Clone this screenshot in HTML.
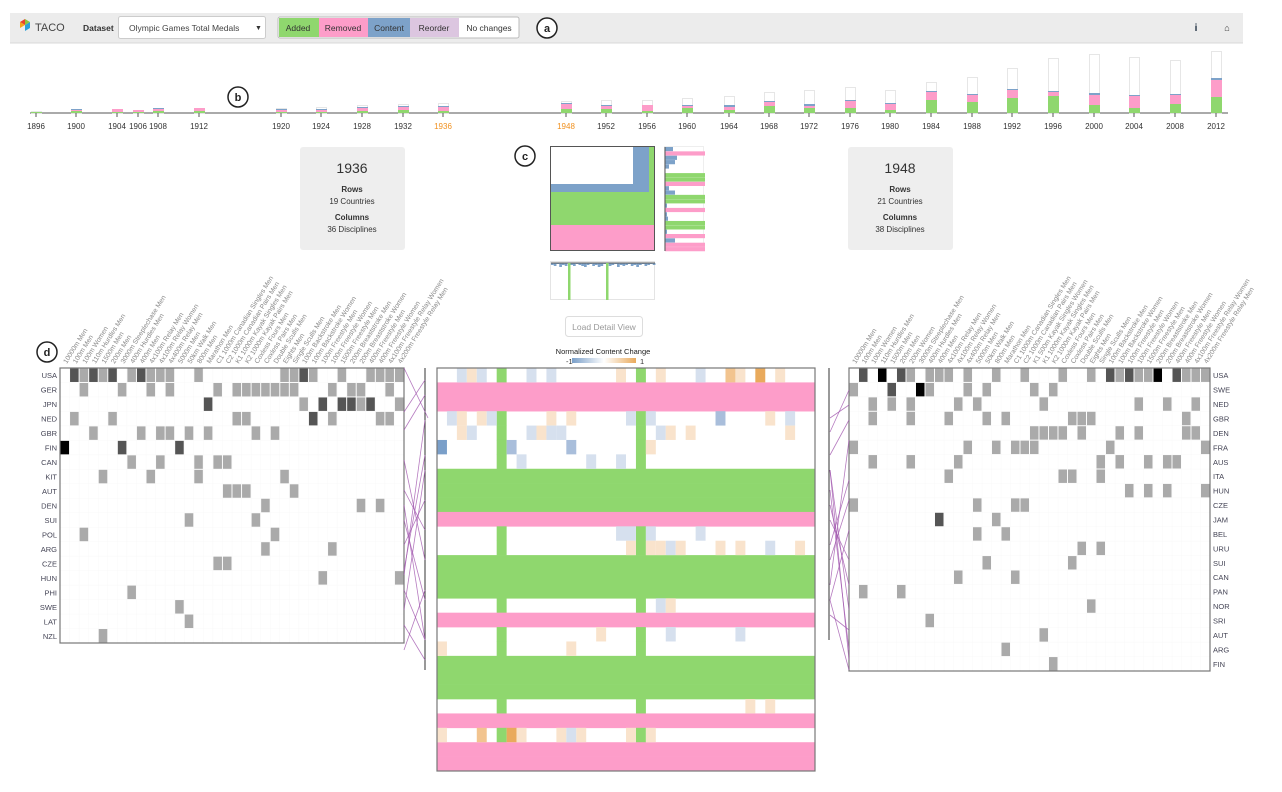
<!DOCTYPE html>
<html><head><meta charset="utf-8">
<style>
body{margin:0;width:1282px;height:792px;background:#fff;font-family:"Liberation Sans",sans-serif;overflow:hidden;position:relative}
</style></head><body>
<svg id="s" width="1282" height="792" xmlns="http://www.w3.org/2000/svg" style="position:absolute;left:0;top:0;font-family:'Liberation Sans',sans-serif">
<rect x="10" y="13" width="1233" height="30" fill="#ececec"/>
<line x1="10" y1="43" x2="1243" y2="43" stroke="#d8d8d8"/>
<polygon points="20,22 25,19 25,25" fill="#e8412c"/><polygon points="20,22 20,28 25,25" fill="#f4a41c"/><polygon points="25,25 30,22 30,28 25,31" fill="#2aa0d8"/><polygon points="25,19 30,22 25,25" fill="#8cc63e"/>
<text x="35" y="31" font-size="11" fill="#444">TACO</text>
<text x="83" y="31" font-size="8.5" font-weight="bold" fill="#333">Dataset</text>
<rect x="118.5" y="16.5" width="147" height="22" rx="2" fill="#fff" stroke="#ccc"/>
<text x="129" y="31" font-size="8.5" fill="#444">Olympic Games Total Medals</text>
<text x="255" y="30" font-size="7" fill="#333">▼</text>
<rect x="278" y="17" width="241" height="21" rx="2" fill="#fff" stroke="#bbb"/>
<rect x="279" y="18" width="40" height="19" fill="#8fd76e"/><rect x="319" y="18" width="49" height="19" fill="#fd9dc9"/><rect x="368" y="18" width="42" height="19" fill="#7da2c9"/><rect x="410" y="18" width="49" height="19" fill="#dcc6e0"/>
<text x="298" y="31" font-size="8.5" fill="#333" text-anchor="middle">Added</text>
<text x="343" y="31" font-size="8.5" fill="#333" text-anchor="middle">Removed</text>
<text x="389" y="31" font-size="8.5" fill="#333" text-anchor="middle">Content</text>
<text x="434" y="31" font-size="8.5" fill="#333" text-anchor="middle">Reorder</text>
<text x="489" y="31" font-size="8.5" fill="#333" text-anchor="middle">No changes</text>
<text x="1196" y="31" font-size="10" font-weight="bold" fill="#234" text-anchor="middle">i</text>
<text x="1227" y="31" font-size="9" fill="#333" text-anchor="middle">⌂</text>
<line x1="30" y1="113" x2="1228" y2="113" stroke="#777" stroke-width="1.2"/>
<g id="tl"></g>
<rect x="300" y="147" width="105" height="103" rx="3" fill="#eee"/>
<text x="352" y="173" font-size="14" fill="#333" text-anchor="middle">1936</text>
<text x="352" y="192" font-size="8" font-weight="bold" fill="#333" text-anchor="middle">Rows</text>
<text x="352" y="204" font-size="8" fill="#333" text-anchor="middle">19 Countries</text>
<text x="352" y="220" font-size="8" font-weight="bold" fill="#333" text-anchor="middle">Columns</text>
<text x="352" y="232" font-size="8" fill="#333" text-anchor="middle">36 Disciplines</text>
<rect x="848" y="147" width="105" height="103" rx="3" fill="#eee"/>
<text x="900" y="173" font-size="14" fill="#333" text-anchor="middle">1948</text>
<text x="900" y="192" font-size="8" font-weight="bold" fill="#333" text-anchor="middle">Rows</text>
<text x="900" y="204" font-size="8" fill="#333" text-anchor="middle">21 Countries</text>
<text x="900" y="220" font-size="8" font-weight="bold" fill="#333" text-anchor="middle">Columns</text>
<text x="900" y="232" font-size="8" fill="#333" text-anchor="middle">38 Disciplines</text>
<rect x="550" y="146" width="105" height="105" fill="#7da2c9"/>
<rect x="551" y="147" width="82" height="37" fill="#fff"/>
<rect x="649" y="147" width="6" height="45" fill="#8fd76e"/>
<rect x="550" y="192" width="105" height="33" fill="#8fd76e"/>
<rect x="550" y="225" width="105" height="26" fill="#fd9dc9"/>
<rect x="550.5" y="146.5" width="104" height="104" fill="none" stroke="#555"/>
<g id="rh"></g>
<rect x="550.5" y="261.5" width="104" height="38" fill="#fff" stroke="#e4e4e4"/>
<g id="bh"></g>
<rect x="565.5" y="316.5" width="77" height="20" rx="3" fill="#fff" stroke="#ddd"/>
<text x="604" y="330" font-size="8.5" fill="#999" text-anchor="middle">Load Detail View</text>
<text x="603" y="354" font-size="7.5" fill="#222" text-anchor="middle">Normalized Content Change</text>
<defs><linearGradient id="g"><stop offset="0" stop-color="#7a9fc9"/><stop offset=".5" stop-color="#fff"/><stop offset="1" stop-color="#e9aa5c"/></linearGradient></defs>
<rect x="572" y="358" width="64" height="5" fill="url(#g)"/>
<text x="566" y="364" font-size="7.5" fill="#333">-1</text><text x="640" y="364" font-size="7.5" fill="#333">1</text>
<line x1="425" y1="368" x2="425" y2="670" stroke="#333"/>
<line x1="829" y1="368" x2="829" y2="640" stroke="#333"/>
<g id="m"></g>
<g font-size="11" font-weight="bold" fill="#222" text-anchor="middle">
<circle cx="547" cy="28" r="10" fill="#fff" stroke="#222" stroke-width="1.5"/><text x="547" y="32">a</text>
<circle cx="238" cy="97" r="10" fill="#fff" stroke="#222" stroke-width="1.5"/><text x="238" y="101">b</text>
<circle cx="525" cy="156" r="10" fill="#fff" stroke="#222" stroke-width="1.5"/><text x="525" y="160">c</text>
<circle cx="47" cy="352" r="10" fill="#fff" stroke="#222" stroke-width="1.5"/><text x="47" y="356">d</text>
</g>
</svg>
<script>
var NS="http://www.w3.org/2000/svg";
function el(p,t,a,txt){var e=document.createElementNS(NS,t);for(var k in a)e.setAttribute(k,a[k]);if(txt!=null)e.textContent=txt;document.getElementById(p).appendChild(e);return e;}
var G="#8fd76e",P="#fd9dc9",B="#7da2c9";
var T=[[1896,36,111,1,0,0],[1900,76,109,2,1,1],[1904,117,109,1,3,0],[1906,138,110,1,2,0],[1908,158,108,2,2,1],[1912,199,108,2,3,0],[1920,281,108,1,2,1],[1924,321,107,1,2,1],[1928,362,105,2,3,1],[1932,403,104,3,3,1],[1936,443,103,2,4,1],
[1948,566,101,4,5,1],[1952,606,100,4,3,1],[1956,647,100,2,6,0],[1960,687,98,5,2,1],[1964,729,96,3,3,2],[1968,769,92,7,4,1],[1972,809,90,5,2,2],[1976,850,87,5,7,1],[1980,890,90,3,6,1],[1984,931,82,13,8,1],[1988,972,77,11,7,1],[1992,1012,68,15,8,1],[1996,1053,58,17,4,1],[2000,1094,54,8,10,2],[2004,1134,57,5,12,1],[2008,1175,60,9,9,1],[2012,1216,51,16,17,2]];
T.forEach(function(t){var x=t[1]-5;
el("tl","rect",{x:x+.5,y:t[2]+.5,width:10,height:112.5-t[2],fill:"#fff",stroke:"#e6e6e6"});
el("tl","rect",{x:x,y:113-t[3],width:11,height:t[3],fill:G});
el("tl","rect",{x:x,y:113-t[3]-t[4],width:11,height:t[4],fill:P});
el("tl","rect",{x:x,y:113-t[3]-t[4]-t[5],width:11,height:t[5],fill:B});
el("tl","line",{x1:t[1],y1:113,x2:t[1],y2:117,stroke:"#555"});
el("tl","text",{x:t[1],y:129,"font-size":8,fill:(t[0]==1936||t[0]==1948)?"#f0901e":"#333","text-anchor":"middle"},t[0]);});
var rh=[[B,8],[P,40],[B,12],[B,10],[B,4],[0,0],[G,40],[G,40],[P,40],[B,4],[B,10],[G,40],[G,40],[B,2],[P,40],[B,2],[B,3],[G,40],[G,40],[B,2],[P,40],[B,10],[P,40],[P,40]];
el("rh","rect",{x:664.5,y:146.5,width:39,height:104,fill:"#fff",stroke:"#eee"});
rh.forEach(function(r,i){if(r[0])el("rh","rect",{x:665,y:147+i*4.35,width:r[1],height:4.2,fill:r[0]});});
el("rh","line",{x1:665,y1:147,x2:665,y2:251,stroke:"#555"});
for(var i=0;i<38;i++){var h=[2,3,1,4,2,3,0,2,3,1,2,3,4,2,1,3,2,4,3,1,0,3,2,1,4,2,3,2,1,3,2,4,2,1,3,2,1,2][i];el("bh","rect",{x:551+i*2.75,y:263,width:2.7,height:h,fill:B});}
el("bh","line",{x1:551,y1:263,x2:655,y2:263,stroke:"#555"});
el("bh","rect",{x:568,y:263,width:2.5,height:37,fill:G});el("bh","rect",{x:606,y:263,width:2.5,height:37,fill:G});
var L=["10000m Men","100m Men","100m Women","110m Hurdles Men","1500m Men","200m Men","3000m Steeplechase Men","400m Hurdles Men","400m Men","4x100m Relay Men","4x100m Relay Women","4x400m Relay Men","5000m Men","50km Walk Men","800m Men","Marathon Men","C1 1000m Canadian Singles Men","C2 1000m Canadian Pairs Men","K1 1000m Kayak Singles Men","K2 1000m Kayak Pairs Men","Coxless Fours Men","Coxless Pairs Men","Double Sculls Men","Eights Men","Single Sculls Men","100m Backstroke Men","100m Backstroke Women","100m Freestyle Men","100m Freestyle Women","1500m Freestyle Men","200m Breaststroke Men","200m Breaststroke Women","400m Freestyle Men","400m Freestyle Women","4x100m Freestyle Relay Women","4x200m Freestyle Relay Men"];
var R=L.slice();R.splice(6,0,"200m Women");R.splice(19,0,"K1 500m Kayak Singles Women");
function matrix(x0,y0,w,h,rows,cols,labels,cells,labX,anchor){
 var cw=w/cols;var rh=h/rows.length;
 el("m","rect",{x:x0,y:y0,width:w,height:h,fill:"#fff"});
 for(var c=1;c<cols;c++)el("m","line",{x1:x0+c*cw,y1:y0,x2:x0+c*cw,y2:y0+h,stroke:"#f8f8f8","stroke-width":.5});
 for(var r=1;r<rows.length;r++)el("m","line",{x1:x0,y1:y0+r*rh,x2:x0+w,y2:y0+r*rh,stroke:"#f8f8f8","stroke-width":.5});
 cells.forEach(function(rw,r){rw.forEach(function(c){var col=typeof c=="number"?c:c[0];var f=typeof c=="number"?"#aaa":(c[1]=="d"?"#555":"#000");
  el("m","rect",{x:x0+col*cw+.5,y:y0+r*rh+.5,width:cw-1,height:rh-1,fill:f});});});
 el("m","rect",{x:x0,y:y0,width:w,height:h,fill:"none",stroke:"#777","stroke-width":1.2});
 rows.forEach(function(n,r){el("m","text",{x:labX,y:y0+r*rh+rh/2+3,"font-size":7.5,fill:"#445","text-anchor":anchor},n);});
 labels.forEach(function(n,c){var x=x0+c*cw+cw/2+2,y=y0-4;el("m","text",{x:0,y:0,"font-size":6.8,fill:"#888",transform:"translate("+x+","+y+") rotate(-58)"},n);});
}
function d(c){return [c,"d"]}function k(c){return [c,"k"]}
matrix(60,368,344,275,["USA","GER","JPN","NED","GBR","FIN","CAN","KIT","AUT","DEN","SUI","POL","ARG","CZE","HUN","PHI","SWE","LAT","NZL"],36,L,[
[d(1),2,d(3),4,d(5),7,d(8),9,10,11,14,23,24,d(25),26,29,32,33,34,35],
[2,6,9,11,16,18,19,20,21,22,23,24,28,30,31,34],
[d(15),25,d(27),d(29),d(30),31,d(32),35],
[1,5,18,19,d(26),28,33,34],
[3,8,10,11,13,15,20,22],
[k(0),d(6),d(12)],
[7,10,14,16,17],[4,9,14,23],[17,18,19,24],[21,31,33],[13,20],[2,22],[21,28],[16,17],[27,35],[7],[12],[13],[4]],57,"end");
matrix(849,368,361,303,["USA","SWE","NED","GBR","DEN","FRA","AUS","ITA","HUN","CZE","JAM","BEL","URU","SUI","CAN","PAN","NOR","SRI","AUT","ARG","FIN"],38,R,[
[d(1),k(3),d(5),6,8,9,10,12,15,18,22,25,d(27),28,d(29),30,31,k(32),d(34),35,36,37],
[0,d(4),k(7),8,12,14,19,21],
[2,4,6,11,13,20,30,33,36],
[2,6,10,14,16,23,24,25,35],
[19,20,21,22,24,28,30,35,36],
[0,12,15,17,18,19,27,37],
[2,6,11,26,28,31,33,34],
[10,22,23,26],[29,31,33,37],[0,13,17,18],[d(9),15],[13,16],[24,26],[14,23],[11,17],[1,5],[25],[8],[20],[16],[21]],1213,"start");
var pl=[[404,428,368,418],[404,425,412,380],[404,425,430,395],[404,425,460,560],[404,425,490,530],[404,425,520,600],[404,425,545,500],[404,425,570,455],[404,425,590,640],[404,425,610,470],[404,425,625,660],[404,425,505,640],[404,425,575,420],[404,425,650,590]];
pl.forEach(function(p){el("m","line",{x1:p[0],y1:p[2],x2:p[1],y2:p[3],stroke:"#a35ab0","stroke-width":.8,opacity:.8});});
var pr=[[830,849,418,405],[830,849,432,390],[830,849,455,420],[830,849,470,610],[830,849,490,650],[830,849,520,560],[830,849,545,480],[830,849,560,500],[830,849,585,440],[830,849,600,670],[830,849,615,630],[830,849,600,530],[830,849,505,585],[830,849,470,660]];
pr.forEach(function(p){el("m","line",{x1:p[0],y1:p[2],x2:p[1],y2:p[3],stroke:"#a35ab0","stroke-width":.8,opacity:.8});});
var cx=437,cy=368,cw=378/38,ch=403/28;
var rt="WPPWWWWGGGPWWGGGWPWWGGGWPWPP";
el("m","rect",{x:cx,y:cy,width:378,height:403,fill:"#fff"});
for(var r=0;r<28;r++){var t=rt[r];if(t=="P")el("m","rect",{x:cx,y:cy+r*ch,width:378,height:ch+.3,fill:P});else if(t=="G")el("m","rect",{x:cx,y:cy+r*ch,width:378,height:ch+.3,fill:G});
 else{[6,20].forEach(function(c){el("m","rect",{x:cx+c*cw,y:cy+r*ch,width:cw,height:ch+.3,fill:G});});}}
var C={lb:"#d6e0ee",mb:"#a9bedb",sb:"#7a9fc9",lo:"#f9e3cc",mo:"#f2c48f",so:"#e9aa5c"};
var cc=[[0,[[2,"lb"],[3,"lo"],[4,"lb"],[9,"lb"],[11,"lb"],[18,"lo"],[22,"lo"],[26,"lb"],[29,"mo"],[30,"lo"],[32,"so"],[34,"lo"]]],
[3,[[1,"lb"],[2,"lo"],[4,"lo"],[5,"lb"],[11,"lo"],[13,"lo"],[19,"lb"],[21,"lb"],[28,"mb"],[33,"lo"],[35,"lb"]]],
[4,[[2,"lo"],[3,"lb"],[9,"lb"],[10,"lo"],[11,"lb"],[12,"lb"],[22,"lb"],[23,"lo"],[25,"lo"],[35,"lo"]]],
[5,[[0,"sb"],[7,"mb"],[13,"mb"],[21,"lo"]]],[6,[[8,"lb"],[15,"lb"],[18,"lb"]]],
[11,[[18,"lb"],[19,"lb"],[21,"lb"],[26,"lb"]]],
[12,[[19,"lo"],[21,"lo"],[22,"lo"],[23,"lb"],[24,"lo"],[28,"lo"],[30,"lo"],[33,"lb"],[36,"lo"]]],
[16,[[22,"lb"],[23,"lo"]]],[18,[[16,"lo"],[23,"lb"],[30,"lb"]]],[19,[[0,"lo"],[13,"lo"]]],[23,[[31,"lo"],[33,"lo"]]],
[25,[[0,"lo"],[4,"mo"],[7,"so"],[8,"lo"],[12,"lo"],[13,"lb"],[14,"lo"],[19,"lo"],[21,"lo"]]]];
cc.forEach(function(r){r[1].forEach(function(c){el("m","rect",{x:cx+c[0]*cw,y:cy+r[0]*ch,width:cw,height:ch,fill:C[c[1]]});});});
el("m","rect",{x:cx,y:cy,width:378,height:403,fill:"none",stroke:"#777","stroke-width":1.2});
</script>
</body></html>
